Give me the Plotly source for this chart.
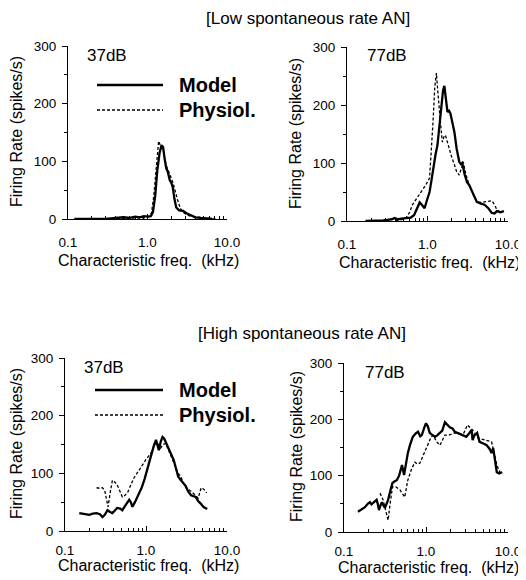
import plotly.graph_objects as go

# ---------------- data (kHz, spikes/s) ----------------
# Low spontaneous rate AN, 37 dB
low37_model_f = [0.12, 0.2, 0.3, 0.4, 0.5, 0.6, 0.7, 0.8, 0.9, 1.0, 1.1, 1.17, 1.25, 1.33, 1.42, 1.5, 1.57,
                 1.64, 1.72, 1.8, 1.9, 2.0, 2.08, 2.18, 2.3, 2.5, 2.8, 3.1, 3.5, 4.0, 4.6, 5.5, 6.5]
low37_model_r = [0, 0, 0, 2, 3, 2, 4, 3, 5, 4, 5, 12, 40, 85, 115, 128, 125,
                 105, 88, 82, 68, 62, 55, 35, 20, 15, 14, 10, 6, 3, 2, 1, 0]
low37_phys_f = [0.15, 0.3, 0.5, 0.7, 0.9, 1.05, 1.12, 1.2, 1.27, 1.33, 1.38, 1.45, 1.52, 1.6, 1.7, 1.8, 1.9,
                2.0, 2.1, 2.25, 2.4, 2.6, 2.9, 3.3, 3.8, 4.5, 5.5, 6.5, 7.5]
low37_phys_r = [0, 0, 1, 2, 2, 4, 10, 40, 85, 120, 135, 128, 122, 115, 95, 85, 75,
                70, 62, 45, 32, 18, 10, 6, 4, 3, 2, 1, 0]

# Low spontaneous rate AN, 77 dB
low77_model_f = [0.17, 0.22, 0.28, 0.32, 0.36, 0.39, 0.43, 0.47, 0.55, 0.62, 0.68, 0.75, 0.8, 0.85, 0.92, 0.98,
                 1.06, 1.12, 1.19, 1.26, 1.33, 1.41, 1.49, 1.56, 1.62, 1.68, 1.77, 1.85, 1.92, 2.0, 2.16, 2.3,
                 2.48, 2.6, 2.7, 2.9, 3.1, 3.3, 3.6, 4.1, 4.6, 5.1, 5.7, 6.3, 6.8, 7.3, 8.0, 8.9]
low77_model_r = [0, 0, 1, 2, 3, 5, 3, 4, 5, 6, 10, 24, 32, 28, 22, 35,
                 50, 70, 97, 115, 131, 170, 205, 225, 233, 215, 188, 190, 186, 175, 153, 125,
                 102, 98, 100, 80, 67, 62, 50, 33, 30, 28, 22, 14, 13, 17, 15, 17]
low77_phys_f = [0.4, 0.5, 0.55, 0.6, 0.65, 0.75, 0.84, 0.95, 1.06, 1.12, 1.17, 1.23, 1.29, 1.34, 1.4, 1.47,
                1.53, 1.6, 1.67, 1.77, 1.87, 2.0, 2.16, 2.3, 2.48, 2.6, 2.78, 3.0, 3.3, 3.7, 4.1, 4.7, 5.5,
                6.3, 6.8, 7.3, 8.4]
low77_phys_r = [0, 3, 7, 15, 28, 40, 50, 62, 74, 120, 170, 230, 255, 225, 188, 160,
                136, 145, 148, 135, 126, 110, 97, 85, 79, 90, 102, 80, 62, 45, 33, 32, 33,
                35, 28, 19, 14]

# High spontaneous rate AN, 37 dB
high37_model_f = [0.15, 0.17, 0.2, 0.22, 0.245, 0.27, 0.29, 0.31, 0.335, 0.36, 0.385, 0.41, 0.44, 0.48, 0.51,
                  0.56, 0.62, 0.65, 0.68, 0.73, 0.78, 0.83, 0.89, 0.96, 1.03, 1.1, 1.18, 1.25, 1.33, 1.38,
                  1.44, 1.52, 1.6, 1.68, 1.78, 1.9, 2.05, 2.2, 2.35, 2.5, 2.7, 2.9, 3.1, 3.3, 3.6, 4.1,
                  4.4, 4.7, 5.1, 5.4, 5.7]
high37_model_r = [31, 30, 28, 30, 31, 29, 24, 28, 36, 33, 31, 35, 40, 39, 36,
                  45, 54, 50, 42, 50, 59, 68, 76, 90, 106, 120, 135, 148, 158, 150,
                  140, 155, 163, 160, 152, 146, 135, 123, 108, 94, 88, 83, 78, 69, 62, 59,
                  52, 48, 42, 40, 38]
high37_phys_f = [0.245, 0.27, 0.29, 0.31, 0.325, 0.34, 0.36, 0.385, 0.41, 0.44, 0.48, 0.51, 0.55, 0.59, 0.65,
                 0.71, 0.8, 0.89, 1.0, 1.15, 1.25, 1.33, 1.42, 1.52, 1.62, 1.75, 1.9, 2.07, 2.3, 2.5, 2.7,
                 2.9, 3.1, 3.35, 3.6, 4.0, 4.4, 4.8, 5.2, 5.6]
high37_phys_r = [75, 74, 75, 70, 55, 42, 65, 88, 85, 80, 68, 59, 62, 66, 80,
                 92, 103, 114, 124, 135, 145, 154, 150, 144, 150, 152, 140, 128, 112, 100, 94,
                 82, 75, 72, 69, 63, 57, 75, 72, 66]

# High spontaneous rate AN, 77 dB
high77_model_f = [0.148, 0.165, 0.18, 0.195, 0.207, 0.216, 0.226, 0.24, 0.25, 0.258, 0.267, 0.28, 0.29, 0.3,
                  0.316, 0.33, 0.345, 0.37, 0.39, 0.415, 0.44, 0.47, 0.51, 0.54, 0.57, 0.6, 0.64, 0.69, 0.75,
                  0.8, 0.85, 0.89, 0.95, 1.0, 1.05, 1.11, 1.2, 1.29, 1.38, 1.48, 1.58, 1.7, 1.82, 1.95, 2.1,
                  2.24, 2.5, 2.75, 3.1, 3.35, 3.6, 3.7, 3.9, 4.2, 4.5, 5.0, 5.5, 6.0, 6.3, 6.6, 6.9, 7.3,
                  7.8, 8.5]
high77_model_r = [36, 40, 44, 50, 53, 49, 51, 55, 57, 50, 39, 48, 53, 48,
                  43, 50, 57, 75, 87, 90, 92, 100, 119, 101, 120, 140, 155, 169, 175,
                  178, 170, 172, 185, 193, 188, 176, 172, 169, 172, 176, 180, 195, 190, 186, 184,
                  178, 175, 172, 169, 175, 181, 163, 172, 176, 160, 157, 154, 147, 140, 149, 130, 106,
                  104, 106]
high77_phys_f = [0.275, 0.3, 0.32, 0.345, 0.365, 0.39, 0.43, 0.48, 0.55, 0.6, 0.66, 0.73, 0.78, 0.84, 0.95,
                 1.06, 1.15, 1.22, 1.35, 1.48, 1.6, 1.7, 1.9, 2.24, 2.6, 2.9, 3.2, 3.45, 3.7, 4.3, 4.9,
                 5.5, 6.3, 6.8, 7.3, 8.0]
high77_phys_r = [69, 57, 40, 21, 50, 80, 80, 75, 62, 92, 110, 124, 121, 122, 140,
                 158, 168, 172, 160, 154, 165, 172, 172, 176, 174, 176, 190, 185, 181, 167, 165,
                 163, 160, 140, 119, 106]

panel_labels = ["37dB", "77dB", "37dB", "77dB"]
x_tick_vals = [0.1, 1, 10]
x_tick_text = ["0.1", "1.0", "10.0"]
x_minor_vals = [0.2, 0.3, 0.4, 0.5, 0.6, 0.7, 0.8, 0.9, 2, 3, 4, 5, 6, 7, 8, 9]
y_tick_vals = [0, 100, 200, 300]

W, H = 526, 580
OFF = 8  # page body margin in the browser
FONT = "Liberation Sans, Arial, Helvetica, sans-serif"

# panel pixel boxes in window pixels: (left, right, top, bottom)
boxes = [(68, 227, 46, 219), (347, 508, 47, 221), (65, 227, 358, 531), (344, 508, 363, 532)]
x_standoff = [11, 11, 7, 7]

series = [
    (low37_model_f, low37_model_r, low37_phys_f, low37_phys_r),
    (low77_model_f, low77_model_r, low77_phys_f, low77_phys_r),
    (high37_model_f, high37_model_r, high37_phys_f, high37_phys_r),
    (high77_model_f, high77_model_r, high77_phys_f, high77_phys_r),
]

fig = go.Figure()
layout = {}
annotations = []
shapes = []

def px(x):
    return (x - OFF) / W

def py(y):
    return 1 - (y - OFF) / H

for i, ((mf, mr, pf, pr), (l, r, t, b)) in enumerate(zip(series, boxes)):
    n = "" if i == 0 else str(i + 1)
    fig.add_trace(go.Scatter(x=pf, y=pr, mode="lines", xaxis="x" + n, yaxis="y" + n,
                             line=dict(color="black", width=1.3, dash="3px,2px"),
                             showlegend=False, hoverinfo="skip"))
    fig.add_trace(go.Scatter(x=mf, y=mr, mode="lines", xaxis="x" + n, yaxis="y" + n,
                             line=dict(color="black", width=2.3),
                             showlegend=False, hoverinfo="skip"))
    layout["xaxis" + n] = dict(
        type="log", range=[-1, 1], domain=[px(l), px(r)], anchor="y" + n, automargin=False,
        showline=True, linecolor="black", linewidth=1, showgrid=False, zeroline=False,
        ticks="inside", ticklen=5, tickcolor="black", tickwidth=1,
        tickvals=x_tick_vals, ticktext=x_tick_text,
        minor=dict(tickvals=x_minor_vals, ticks="inside", ticklen=3, tickcolor="black", tickwidth=1),
        tickfont=dict(family=FONT, size=13.5, color="black"), ticklabelstandoff=x_standoff[i],
    )
    layout["yaxis" + n] = dict(
        range=[0, 300], domain=[py(b), py(t)], anchor="x" + n, automargin=False,
        showline=True, linecolor="black", linewidth=1, showgrid=False, zeroline=False,
        ticks="outside", ticklen=5, tickcolor="black", tickwidth=1,
        tickvals=y_tick_vals,
        minor=dict(dtick=50, ticks="outside", ticklen=3, tickcolor="black", tickwidth=1),
        tickfont=dict(family=FONT, size=13.5, color="black"), ticklabelstandoff=3,
    )

# axis titles
ytitle_pos = [(17, 132), (295, 134), (17, 444), (296, 447)]
xtitle_pos = [(148, 260), (429, 262), (148, 565), (428, 567)]
for (x, y) in ytitle_pos:
    annotations.append(dict(text="Firing Rate (spikes/s)", x=px(x), y=py(y), xref="paper", yref="paper",
                            showarrow=False, textangle=-90, font=dict(family=FONT, size=16, color="black"),
                            xanchor="center", yanchor="middle"))
for (x, y) in xtitle_pos:
    annotations.append(dict(text="Characteristic freq.&nbsp;&nbsp;(kHz)", x=px(x), y=py(y), xref="paper", yref="paper",
                            showarrow=False, font=dict(family=FONT, size=16, color="black"),
                            xanchor="center", yanchor="middle"))

# level labels
label_pos = [(85, 55), (365, 55), (82, 367), (363, 372)]
for txt, (x, y) in zip(panel_labels, label_pos):
    annotations.append(dict(text=txt, x=px(x), y=py(y), xref="paper", yref="paper", showarrow=False,
                            font=dict(family=FONT, size=17, color="black"), xanchor="left", yanchor="middle"))

# group titles
annotations.append(dict(text="[Low spontaneous rate AN]", x=px(308), y=py(19), xref="paper", yref="paper",
                        showarrow=False, font=dict(family=FONT, size=17, color="black"),
                        xanchor="center", yanchor="middle"))
annotations.append(dict(text="[High spontaneous rate AN]", x=px(302), y=py(333), xref="paper", yref="paper",
                        showarrow=False, font=dict(family=FONT, size=17, color="black"),
                        xanchor="center", yanchor="middle"))

# legends (panels 1 and 3)
for (x0, x1, ys, yd, xt) in [(97, 163, 85, 110, 177), (95, 163, 390, 415, 177)]:
    shapes.append(dict(type="line", xref="paper", yref="paper", x0=px(x0), x1=px(x1), y0=py(ys), y1=py(ys),
                       line=dict(color="black", width=2.3)))
    shapes.append(dict(type="line", xref="paper", yref="paper", x0=px(x0), x1=px(x1), y0=py(yd), y1=py(yd),
                       line=dict(color="black", width=1.3, dash="3px,2px")))
    annotations.append(dict(text="<b>Model</b>", x=px(xt), y=py(ys), xref="paper", yref="paper", showarrow=False,
                            font=dict(family=FONT, size=20, color="black"), xanchor="left", yanchor="middle"))
    annotations.append(dict(text="<b>Physiol.</b>", x=px(xt), y=py(yd), xref="paper", yref="paper", showarrow=False,
                            font=dict(family=FONT, size=20, color="black"), xanchor="left", yanchor="middle"))

fig.update_layout(
    width=W, height=H, margin=dict(l=0, r=0, t=0, b=0, autoexpand=False),
    paper_bgcolor="white", plot_bgcolor="white",
    font=dict(family=FONT, color="black"),
    annotations=annotations, shapes=shapes, showlegend=False,
    **layout,
)

fig.write_html("out.html")
